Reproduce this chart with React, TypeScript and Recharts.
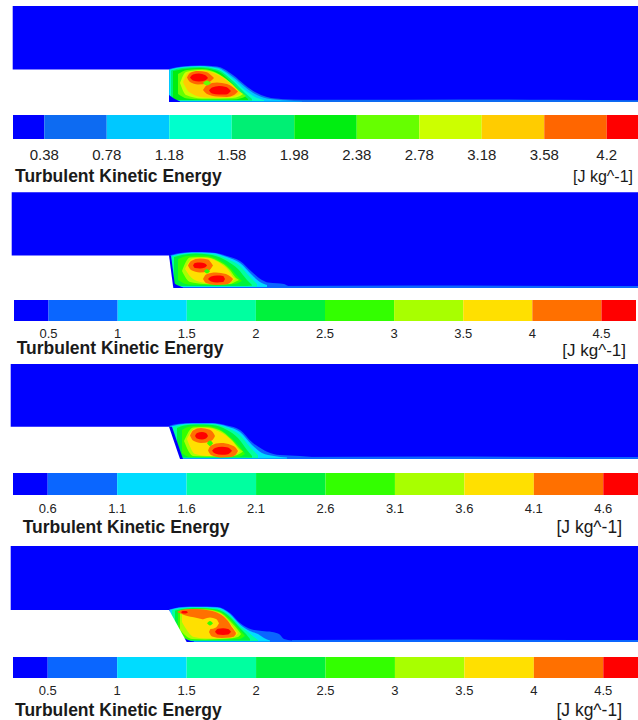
import { ComposedChart, Area, XAxis, YAxis, BarChart, Bar } from 'recharts'

const FONT = '"Liberation Sans", Arial, Helvetica, sans-serif'

// legend colour levels, low -> high
const levels11 = ['#0000ff', '#0d6bf2', '#00c8ff', '#00ffcc', '#00ef74', '#00ee11', '#66ff00', '#ccff00', '#ffcc00', '#ff6600', '#ff0000']
const levels10 = ['#0000ff', '#0a66ff', '#00dcff', '#00ffa0', '#00f23c', '#33ff00', '#a8ff00', '#ffe000', '#ff7000', '#ff0000']

// legend band widths (first and last are half bands)
const bands11 = [0.5, 1, 1, 1, 1, 1, 1, 1, 1, 1, 0.5]
const bands10 = [0.5, 1, 1, 1, 1, 1, 1, 1, 1, 0.5]

const ticks1 = ['0.38', '0.78', '1.18', '1.58', '1.98', '2.38', '2.78', '3.18', '3.58', '4.2']
const ticks2 = ['0.5', '1', '1.5', '2', '2.5', '3', '3.5', '4', '4.5']
const ticks3 = ['0.6', '1.1', '1.6', '2.1', '2.6', '3.1', '3.6', '4.1', '4.6']
const ticks4 = ['0.5', '1', '1.5', '2', '2.5', '3', '3.5', '4', '4.5']

type Pt = [number, number, number] // x, low, high
type Contour = [number, Pt[]] // level, outline

// ---- case 1 ----
const p1Domain: Pt[] = [[0.7, 0, 96], [626, 0, 96]]
const p1Wall: Pt[] = [[-2, 0, 32.5], [157, 0, 32.5], [157, 0, 0]]
const p1Sliver: Pt[] = []
const p1Contours: Contour[] = [
  [1, [[240, 0, 2], [330, 0, 2.2], [450, 0, 2.6], [540, 0, 2.2], [626, 0, 1.8]]],
  [1, [[157, 0, 33], [170, 0, 35.5], [188, 0, 36.5], [205, 0, 35.5], [221, 0, 27], [233, 0, 17], [243, 0, 10], [255, 0, 5], [271, 0, 2.8], [290, 0, 2], [320, 0, 1.5]]],
  [2, [[157, 0.5, 32.5], [170, 0.5, 35], [188, 0.5, 36], [205, 0.5, 34.5], [221, 0.5, 25], [233, 0.5, 15], [243, 0.5, 8], [255, 0.5, 3.5], [275, 0.5, 1.5], [290, 0.5, 0.8]]],
  [3, [[158, 1, 32], [170, 1, 34.5], [188, 1, 35.5], [205, 1, 33.5], [221, 1, 23], [233, 1, 12], [243, 1, 5], [252, 1, 2]]],
  [4, [[159, 1.5, 31.5], [170, 1.5, 34], [188, 1.5, 35], [205, 1.5, 32.5], [221, 1.5, 21], [233, 1.5, 9], [240, 1.5, 3]]],
  [5, [[161, 2, 31], [172, 2, 33], [188, 2, 34], [205, 2, 31], [221, 2, 18], [230, 2, 8], [236, 2, 3]]],
  [6, [[166, 8, 28], [175, 3.5, 32], [190, 2.5, 33], [205, 2.5, 29], [220, 2.5, 18], [230, 4, 9], [234, 6, 6]]],
  [7, [[168, 19, 19], [174, 7, 30], [190, 3.5, 32], [207, 3.5, 27.5], [220, 4, 18], [228, 6, 10], [231, 8, 8]]],
  [8, [[171, 20, 20], [177, 10, 29.5], [192, 4.5, 31], [208, 4, 26], [220, 5, 17], [227, 8, 10], [229, 9, 9]]],
  [9, [[175, 24.5, 24.5], [178, 20, 29], [186, 17.5, 31], [194, 18, 30], [200, 22, 26], [202, 24, 24]]],
  [9, [[191, 12, 12], [195, 8, 17], [205, 5.5, 19.5], [215, 5, 18], [222, 7, 14], [226, 10.5, 10.5]]],
  [10, [[178, 24.5, 24.5], [181, 21.5, 27.5], [187, 20.5, 28.5], [193, 21.5, 27], [196, 24, 24]]],
  [10, [[197, 11.5, 11.5], [200, 8.5, 14.5], [207, 7.5, 16], [214, 7.5, 15], [219, 11, 11]]],
  [6, [[191, 19, 19], [195, 16.5, 21.5], [199, 19, 19]]],
  [0, [[157, 0, 7], [162, 0, 3.5], [168, 0, 0.5]]],
]

// ---- case 2 ----
const p2Domain: Pt[] = [[-0.3, 0, 95.8], [626, 0, 95.8]]
const p2Wall: Pt[] = [[-2, 0, 32.5], [157, 0, 32.5], [161.3, 0, 0]]
const p2Sliver: Pt[] = [[157, 0, 32.5], [159, 0, 32.5], [163.3, 0, 0]]
const p2Contours: Contour[] = [
  [1, [[255, 0, 2], [400, 0, 2.4], [626, 0, 2]]],
  [1, [[157, 1, 32.5], [165, 0, 34.5], [180, 0, 36], [200, 0, 35.5], [215, 0, 32], [228, 0, 27], [240, 0, 16], [250, 0, 8], [256, 0, 5.5], [265, 0, 4.8], [272, 0, 4], [277, 0, 1.8], [290, 0, 1.2]]],
  [2, [[158, 1, 32], [166, 1, 34], [180, 1, 35.5], [200, 1, 35], [215, 1, 31], [228, 1, 25], [240, 1, 13], [248, 1, 6], [255, 1, 3]]],
  [3, [[160, 2, 31.5], [168, 1.5, 33.5], [182, 1.5, 35], [200, 1.5, 34], [215, 1.5, 29], [228, 1.5, 22], [238, 1.5, 11], [245, 1.5, 4]]],
  [4, [[162, 3, 31], [170, 2, 33], [184, 2, 34.5], [200, 2, 33], [215, 2, 27], [226, 2, 19], [235, 2, 8], [240, 2.5, 3]]],
  [5, [[166, 8, 29], [176, 3.5, 32], [190, 3, 32.5], [205, 3, 29], [218, 3.5, 20], [226, 5, 11], [230, 7, 7]]],
  [6, [[170, 17, 17], [178, 6, 30.5], [192, 4, 31], [206, 3.5, 27], [218, 4, 18], [224, 6.5, 10], [227, 8, 8]]],
  [7, [[173, 19, 19], [181, 9, 29.5], [194, 5, 30], [207, 4, 25.5], [217, 4.5, 17], [222, 8, 10], [224, 9, 9]]],
  [8, [[176, 22.5, 22.5], [179, 18, 27], [188, 15.5, 29.5], [196, 16.5, 28.5], [200, 21, 24], [201, 22.5, 22.5]]],
  [8, [[191, 9, 9], [194, 5, 13.5], [204, 3, 15.5], [214, 3.5, 14], [219, 6, 11], [221, 9, 9]]],
  [9, [[181, 22.5, 22.5], [183, 20, 25], [188, 19.5, 25.5], [193, 20.5, 24.5], [195, 22.5, 22.5]]],
  [9, [[196, 9, 9], [199, 6.5, 11.5], [205, 5.5, 12.5], [211, 6, 12], [213, 9, 9]]],
  [5, [[192, 16.8, 16.8], [195, 14.5, 19], [198, 16.8, 16.8]]],
  [0, [[160, 0, 6], [165, 0, 3], [171, 0, 0.5]]],
]

// ---- case 3 ----
const p3Domain: Pt[] = [[-1.3, 0, 95], [626, 0, 95]]
const p3Wall: Pt[] = [[-2, 0, 32.3], [157, 0, 32.3], [168, 0, 0]]
const p3Sliver: Pt[] = [[157, 0, 32.3], [160, 0, 32.3], [171, 0, 0]]
const p3Contours: Contour[] = [
  [1, [[270, 0, 2], [420, 0, 2.4], [626, 0, 2]]],
  [1, [[157, 0, 33], [165, 0, 35], [180, 0, 36], [200, 0, 36], [215, 0, 33.5], [228, 0, 29], [241, 0, 16], [250, 0, 10], [255, 0, 7.3], [268, 0, 4], [288, 0, 3], [300, 0, 2], [315, 0, 1]]],
  [2, [[158, 0.5, 32.5], [167, 0.5, 34.5], [180, 0.5, 35.5], [200, 0.5, 35.5], [215, 0.5, 32.5], [228, 0.5, 27], [240, 0.5, 14], [250, 0.5, 6], [262, 0.5, 3], [275, 0.5, 1.5]]],
  [3, [[161, 1, 32], [170, 1, 34], [182, 1, 35], [200, 1, 35], [215, 1, 31], [228, 1, 24], [238, 1, 12], [246, 1, 4]]],
  [4, [[165, 1.5, 31], [172, 1.5, 33.5], [184, 1.5, 34.5], [200, 1.5, 34], [215, 1.5, 29], [226, 1.5, 21], [235, 1.5, 9], [240, 1.5, 3]]],
  [5, [[170, 6, 29], [178, 2, 32.5], [190, 2, 33.5], [205, 2, 31], [218, 2, 22], [228, 2.5, 12], [233, 5, 5]]],
  [6, [[172, 18, 18], [181, 3, 31.5], [193, 2.5, 32], [207, 2.5, 29], [220, 3, 19], [229, 6, 9], [231, 7.5, 7.5]]],
  [7, [[175, 20, 20], [183, 5, 30.5], [195, 3, 31], [208, 3, 27], [221, 3.5, 17], [227, 7, 9], [228, 8, 8]]],
  [8, [[178, 23.5, 23.5], [181, 18.5, 28.5], [189, 16, 31], [197, 17, 29.5], [202, 21, 25], [203, 23, 23]]],
  [8, [[196, 8.5, 8.5], [199, 4, 13.5], [209, 1.5, 16], [219, 2, 14], [224, 4.5, 11], [226, 8, 8]]],
  [9, [[183, 23, 23], [185, 20.5, 26], [190, 19.5, 27], [194, 20.5, 26], [196, 23, 23]]],
  [9, [[200, 8.2, 8.2], [203, 5.5, 11], [210, 4.2, 12.3], [216, 4.8, 11.5], [220, 8.2, 8.2]]],
  [5, [[195, 15.7, 15.7], [198, 13, 18.5], [201, 15.7, 15.7]]],
]

// ---- case 4 ----
const p4Domain: Pt[] = [[-1.3, 0, 96], [626, 0, 96]]
const p4Wall: Pt[] = [[-2, 0, 32], [157, 0, 32], [174.7, 0, 0]]
const p4Sliver: Pt[] = []
const p4Contours: Contour[] = [
  [1, [[280, 0, 2], [420, 0, 2.4], [626, 0, 2]]],
  [1, [[157, 0, 32.5], [170, 0, 35], [185, 0, 35.5], [205, 0, 35], [218, 0, 29], [228, 0, 19], [240, 0, 12.5], [250, 0, 11], [260, 0, 10], [267, 0, 8], [272, 0, 3], [280, 0, 1.5]]],
  [2, [[158, 0.5, 32.3], [170, 0.5, 34.5], [185, 0.5, 35], [205, 0.5, 34.5], [218, 0.5, 28], [228, 0.5, 17.5], [238, 0.5, 11], [246, 0.5, 8], [252, 0.5, 4], [258, 0.5, 1.5]]],
  [3, [[160, 1, 32], [172, 1, 34], [186, 1, 34.5], [205, 1, 33.5], [218, 1, 26.5], [228, 1, 16], [236, 1, 10], [242, 1, 5], [246, 1, 2]]],
  [4, [[163, 1.5, 31.5], [175, 1.5, 33.5], [188, 1.5, 34], [205, 1.5, 32.5], [218, 1.5, 25], [228, 1.5, 14], [234, 1.5, 8], [238, 1.5, 3]]],
  [5, [[166, 4, 31.5], [177, 2, 33], [190, 2, 33.5], [205, 2, 31.5], [218, 2.5, 23], [227, 3, 13], [233, 6, 6]]],
  [6, [[168, 12, 31.5], [180, 3, 32.5], [193, 2.5, 32.5], [207, 3, 30], [218, 3.5, 21], [226, 5, 12], [229, 8, 8]]],
  [7, [[170, 20, 31], [182, 5, 32], [195, 3.5, 31.5], [208, 3.5, 28.5], [218, 4, 19], [224, 6.5, 11], [226, 9, 9]]],
  [8, [[165, 30, 30], [172, 27, 32.5], [185, 24, 33], [198, 20, 31.5], [208, 12, 28], [216, 5.5, 21], [221, 5, 13], [224, 8, 8]]],
  [8, [[197, 10, 10], [200, 5.5, 15], [210, 4, 16.5], [219, 4.5, 15], [224, 9, 9]]],
  [7, [[189, 18.7, 18.7], [192, 14.5, 23], [198, 13, 24.5], [204, 14.5, 23], [207, 18.7, 18.7]]],
  [5, [[195, 18.7, 18.7], [198, 16.5, 21], [201, 18.7, 18.7]]],
  [9, [[169, 29.7, 29.7], [171, 28.5, 31], [174, 28.5, 31], [176, 29.7, 29.7]]],
  [9, [[203, 10.3, 10.3], [206, 7.5, 13.2], [211, 7, 13.7], [216, 7.5, 13], [219, 10.3, 10.3]]],
  [0, [[172, 0, 4], [176, 0, 2], [182, 0, 0.5]]],
]

const rows = (pts: Pt[]) => pts.map(([x, lo, hi]) => ({ x, band: [lo, hi] }))

const areaProps = {
  dataKey: 'band',
  stroke: 'none',
  fillOpacity: 1,
  dot: false,
  activeDot: false,
  isAnimationActive: false,
}

function Field({ top, domain, wall, sliver, contours, palette }: any) {
  return (
    <div style={{ position: 'absolute', left: 10, top }}>
      <ComposedChart width={628} height={96} margin={{ top: 0, right: 0, bottom: 0, left: 0 }}>
        <XAxis type="number" dataKey="x" domain={[-2, 626]} hide allowDataOverflow />
        <YAxis type="number" domain={[0, 96]} hide allowDataOverflow />
        <Area {...areaProps} data={rows(domain)} type="linear" fill={palette[0]} />
        {contours.map(([lvl, pts]: Contour, i: number) => (
          <Area key={i} {...areaProps} data={rows(pts)} type="monotone" fill={palette[lvl]} />
        ))}
        {sliver.length > 0 && <Area {...areaProps} data={rows(sliver)} type="linear" fill={palette[0]} />}
        <Area {...areaProps} data={rows(wall)} type="linear" fill="#ffffff" />
      </ComposedChart>
    </div>
  )
}

function ColourBar({ left, top, width, barH, bands, palette, labels, fontSize, margin }: any) {
  const row: Record<string, any> = { name: 'k' }
  bands.forEach((b: number, i: number) => (row['s' + i] = b))
  let acc = 0
  const ticks = bands.slice(0, -1).map((b: number) => (acc += b))
  const total = acc + bands[bands.length - 1]
  return (
    <div style={{ position: 'absolute', left, top }}>
      <BarChart
        layout="vertical"
        width={width}
        height={barH + 30}
        data={[row]}
        margin={{ top: 0, right: 0, bottom: 0, left: 0 }}
        barCategoryGap={0}
      >
        <XAxis
          type="number"
          domain={[0, total]}
          ticks={ticks}
          interval={0}
          height={30}
          axisLine={false}
          tickLine={false}
          tickMargin={margin}
          tickFormatter={(v: number) => labels[ticks.indexOf(v)]}
          tick={{ fill: '#222', fontSize, fontFamily: FONT }}
        />
        <YAxis type="category" dataKey="name" hide />
        {bands.map((_: number, i: number) => (
          <Bar key={i} dataKey={'s' + i} stackId="c" fill={palette[i]} isAnimationActive={false} />
        ))}
      </BarChart>
    </div>
  )
}

const titleStyle = { fontFamily: FONT, fontWeight: 700, fontSize: 17.5, fill: '#1a1a1a' }
const unitStyle = { fontFamily: FONT, fill: '#1a1a1a' }

export default function App() {
  return (
    <div style={{ position: 'absolute', left: 0, top: 0, width: 638, height: 720, background: '#fff', overflow: 'hidden' }}>
      <Field top={6} domain={p1Domain} wall={p1Wall} sliver={p1Sliver} contours={p1Contours} palette={levels11} />
      <ColourBar left={13} top={115} width={625} barH={24} bands={bands11} palette={levels11} labels={ticks1} fontSize={15} margin={4} />

      <Field top={191.5} domain={p2Domain} wall={p2Wall} sliver={p2Sliver} contours={p2Contours} palette={levels10} />
      <ColourBar left={14} top={300} width={622} barH={21} bands={bands10} palette={levels10} labels={ticks2} fontSize={13} margin={2} />

      <Field top={363} domain={p3Domain} wall={p3Wall} sliver={p3Sliver} contours={p3Contours} palette={levels10} />
      <ColourBar left={13} top={473} width={625} barH={22} bands={bands10} palette={levels10} labels={ticks3} fontSize={13} margin={2.5} />

      <Field top={546} domain={p4Domain} wall={p4Wall} sliver={p4Sliver} contours={p4Contours} palette={levels10} />
      <ColourBar left={13} top={657} width={625} barH={21} bands={bands10} palette={levels10} labels={ticks4} fontSize={13} margin={2} />

      <svg width={638} height={720} style={{ position: 'absolute', left: 0, top: 0, pointerEvents: 'none' }}>
        <text x={15} y={181.8} style={titleStyle as any}>Turbulent Kinetic Energy</text>
        <text x={633} y={182} textAnchor="end" fontSize={16} style={unitStyle}>[J kg^-1]</text>
        <text x={16.7} y={354.2} style={titleStyle as any}>Turbulent Kinetic Energy</text>
        <text x={626} y={356} textAnchor="end" fontSize={17} style={unitStyle}>[J kg^-1]</text>
        <text x={22.7} y={532.5} style={titleStyle as any}>Turbulent Kinetic Energy</text>
        <text x={622} y={532.5} textAnchor="end" fontSize={17.5} style={unitStyle}>[J kg^-1]</text>
        <text x={15} y={715.8} style={titleStyle as any}>Turbulent Kinetic Energy</text>
        <text x={622} y={716} textAnchor="end" fontSize={17.5} style={unitStyle}>[J kg^-1]</text>
      </svg>
    </div>
  )
}
